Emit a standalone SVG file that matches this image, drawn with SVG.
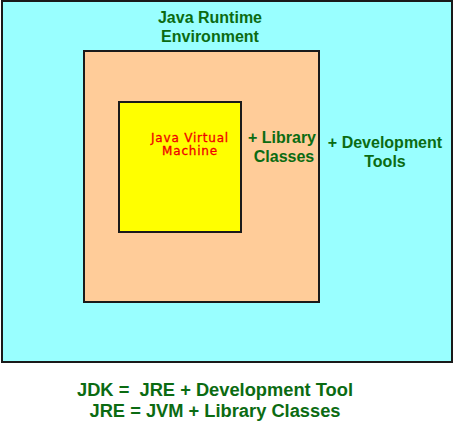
<svg xmlns="http://www.w3.org/2000/svg" width="462" height="442" viewBox="0 0 462 442">
<style>
.box{stroke:#1a1a1a;stroke-width:2}
.g{font-family:"Liberation Sans",Arial,sans-serif;font-weight:bold;fill:#0b6b12;text-anchor:middle;white-space:pre}
.r{font-family:"DejaVu Sans",Verdana,sans-serif;fill:#f00000;text-anchor:middle;font-size:12px;letter-spacing:0.8px;stroke:#f00000;stroke-width:0.3}
</style>
<rect width="462" height="442" fill="#ffffff"/>
<g id="jdk">
<rect class="box" x="2" y="1" width="450" height="361" fill="#99ffff"/>
<text class="g" font-size="16" x="385" y="148">+ Development</text>
<text class="g" font-size="16" x="385" y="167">Tools</text>
</g>
<g id="jre">
<rect class="box" x="84" y="51" width="235" height="251" fill="#ffcc99"/>
<text class="g" font-size="16" x="210" y="23">Java Runtime</text>
<text class="g" font-size="16" x="210" y="42">Environment</text>
<text class="g" font-size="16" x="282" y="143">+ Library</text>
<text class="g" font-size="16" x="284" y="162">Classes</text>
</g>
<g id="jvm">
<rect class="box" x="119" y="102" width="122" height="130" fill="#ffff00"/>
<text class="r" x="190" y="142">Java Virtual</text>
<text class="r" x="190" y="155">Machine</text>
</g>
<g id="formulas">
<text class="g" font-size="18.3" x="215" y="396" xml:space="preserve">JDK =  JRE + Development Tool</text>
<text class="g" font-size="18.3" x="215" y="417">JRE = JVM + Library Classes</text>
</g>
<g id="connectors"></g>
</svg>
